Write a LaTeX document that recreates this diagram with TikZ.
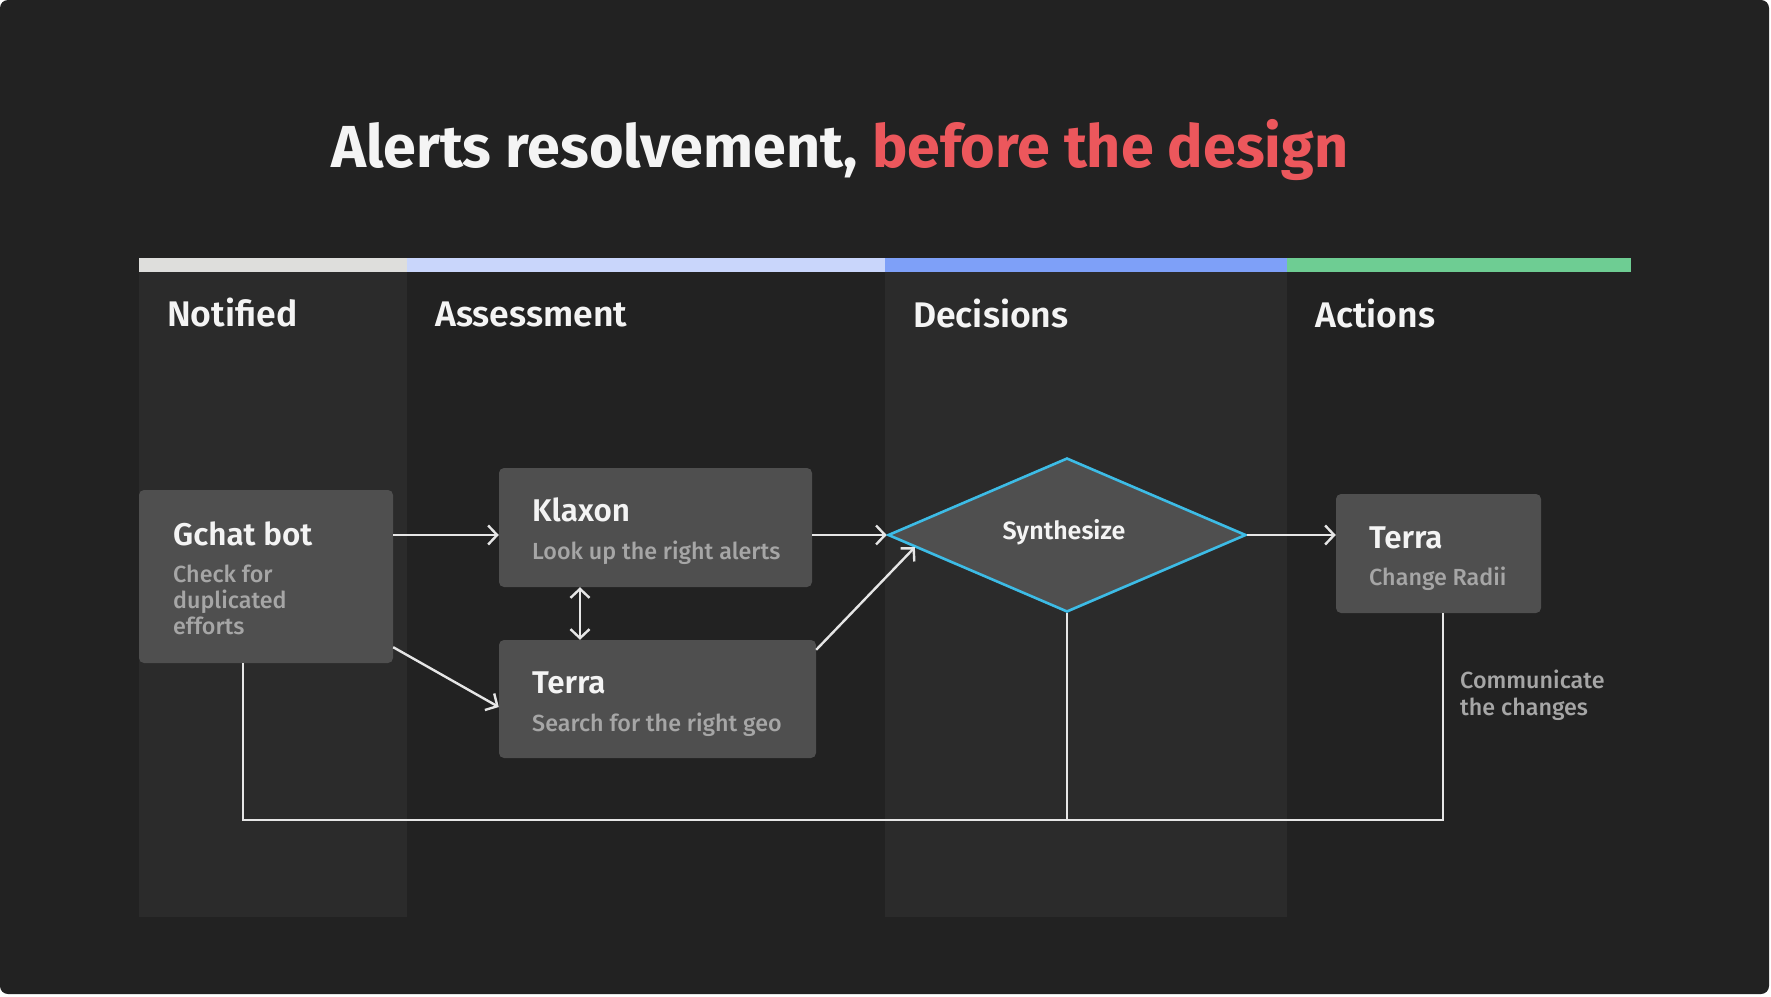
\documentclass[tikz,border=0pt]{standalone}
\usepackage{fontspec}
\setmainfont{Fira Sans}
\newfontfamily\semifont{Fira Sans SemiBold}
\newfontfamily\medfont{Fira Sans Medium}
\usetikzlibrary{arrows.meta,calc,shapes.geometric}
\definecolor{bgc}{HTML}{222222}
\definecolor{colc}{HTML}{2B2B2B}
\definecolor{boxc}{HTML}{4F4F4F}
\definecolor{linec}{HTML}{E6E6E6}
\definecolor{subc}{HTML}{A6A6A6}
\definecolor{titlew}{HTML}{F4F4F4}
\definecolor{titler}{HTML}{EC575C}
\definecolor{barA}{HTML}{DEDEDC}
\definecolor{barB}{HTML}{C9D6FB}
\definecolor{barC}{HTML}{7EA0F8}
\definecolor{barD}{HTML}{6ECD93}
\definecolor{cyanc}{HTML}{3DBCE6}
\tikzset{
  box/.style={fill=boxc, rounded corners=5pt, inner sep=0pt, draw=none},
  conn/.style={draw=linec, line width=2.4pt},
  arr/.style={conn, -{Straight Barb[length=9pt,width=19pt,line width=2.4pt]}},
  dblarr/.style={conn, {Straight Barb[length=9pt,width=19pt,line width=2.4pt]}-{Straight Barb[length=9pt,width=19pt,line width=2.4pt]}},
  hdr/.style={anchor=base west, inner sep=0pt, text=titlew, font=\semifont\fontsize{35.6}{36}\selectfont},
  ttl/.style={anchor=base west, inner sep=0pt, text=titlew, font=\semifont\fontsize{31.4}{32}\selectfont},
  sub/.style={anchor=base west, inner sep=0pt, text=subc, font=\medfont\fontsize{23.3}{26}\selectfont},
}
\begin{document}
\begin{tikzpicture}[x=1pt,y=-1pt]
\useasboundingbox (0,0) rectangle (1771,996);
\fill[white] (0,0) rectangle (1771,996);
\fill[bgc, rounded corners=8pt] (0,0) rectangle (1769,994);
% columns
\fill[colc] (139,272) rectangle (407,917);
\fill[colc] (885,272) rectangle (1287,917);
% colour bar
\fill[barA] (139,258) rectangle (407,272);
\fill[barB] (407,258) rectangle (885,272);
\fill[barC] (885,258) rectangle (1287,272);
\fill[barD] (1287,258) rectangle (1631,272);
% title
\node (title) [anchor=base west, inner sep=0pt, font=\bfseries\fontsize{59.3}{60}\selectfont]
  at (331,167) {\color{titlew}Alerts resolvement, \color{titler}before the design};
% headers
\node (h1) [hdr] at (167,326) {Notified};
\node (h2) [hdr] at (435,326) {Assessment};
\node (h3) [hdr] at (913,327) {Decisions};
\node (h4) [hdr] at (1315,327) {Actions};
% boxes
\node (gchat) [box, minimum width=254pt, minimum height=173pt] at (266,576.5) {};
\node (klaxon) [box, minimum width=313pt, minimum height=119pt] at (655.5,527.5) {};
\node (terra1) [box, minimum width=317pt, minimum height=118pt] at (657.5,699) {};
\node (terra2) [box, minimum width=205pt, minimum height=119pt] at (1438.5,553.5) {};
\node (synth) [diamond, fill=boxc, draw=cyanc, line width=2.6pt, inner sep=0pt,
  minimum width=358pt, minimum height=154pt] at (1067,535) {};
% texts
\node (gt) [ttl] at (173,545) {Gchat bot};
\node (gs1) [sub] at (173,582) {Check for};
\node (gs2) [sub] at (173,608) {duplicated};
\node (gs3) [sub] at (173,634) {efforts};
\node (kt) [ttl] at (532,521.5) {Klaxon};
\node (ks) [sub] at (532,559) {Look up the right alerts};
\node (tt) [ttl] at (532,693) {Terra};
\node (ts) [sub] at (532,731) {Search for the right geo};
\node (st) [anchor=base, inner sep=0pt, text=titlew, font=\semifont\fontsize{25}{25}\selectfont] at (1064,539) {Synthesize};
\node (t2t) [ttl] at (1369,548) {Terra};
\node (t2s) [sub] at (1369,585) {Change Radii};
\node (cm1) [sub] at (1460,688) {Communicate};
\node (cm2) [sub] at (1460,715) {the changes};
% connectors
\draw[arr] (gchat.east |- synth.west) -- (klaxon.west |- synth.west);
\draw[arr] (klaxon.east |- synth.west) -- (synth.west);
\draw[arr] ($(gchat.south east)+(0,-16)$) -- ($(terra1.west)+(0,8)$);
\draw[arr] ($(terra1.north east)+(0,10)$) -- ($(synth.west)!0.156!(synth.south)$);
\draw[dblarr] (klaxon.south -| 580,0) -- (terra1.north -| 580,0);
\draw[arr] (synth.east) -- (terra2.west |- synth.east);
\coordinate (fbL) at (243,820);
\coordinate (fbR) at (1443,820);
\draw[conn] (gchat.south -| fbL) -- (fbL) -- (fbR) -- (terra2.south -| fbR);
\draw[conn] (synth.south) -- (synth.south |- fbL);
\end{tikzpicture}
\end{document}
